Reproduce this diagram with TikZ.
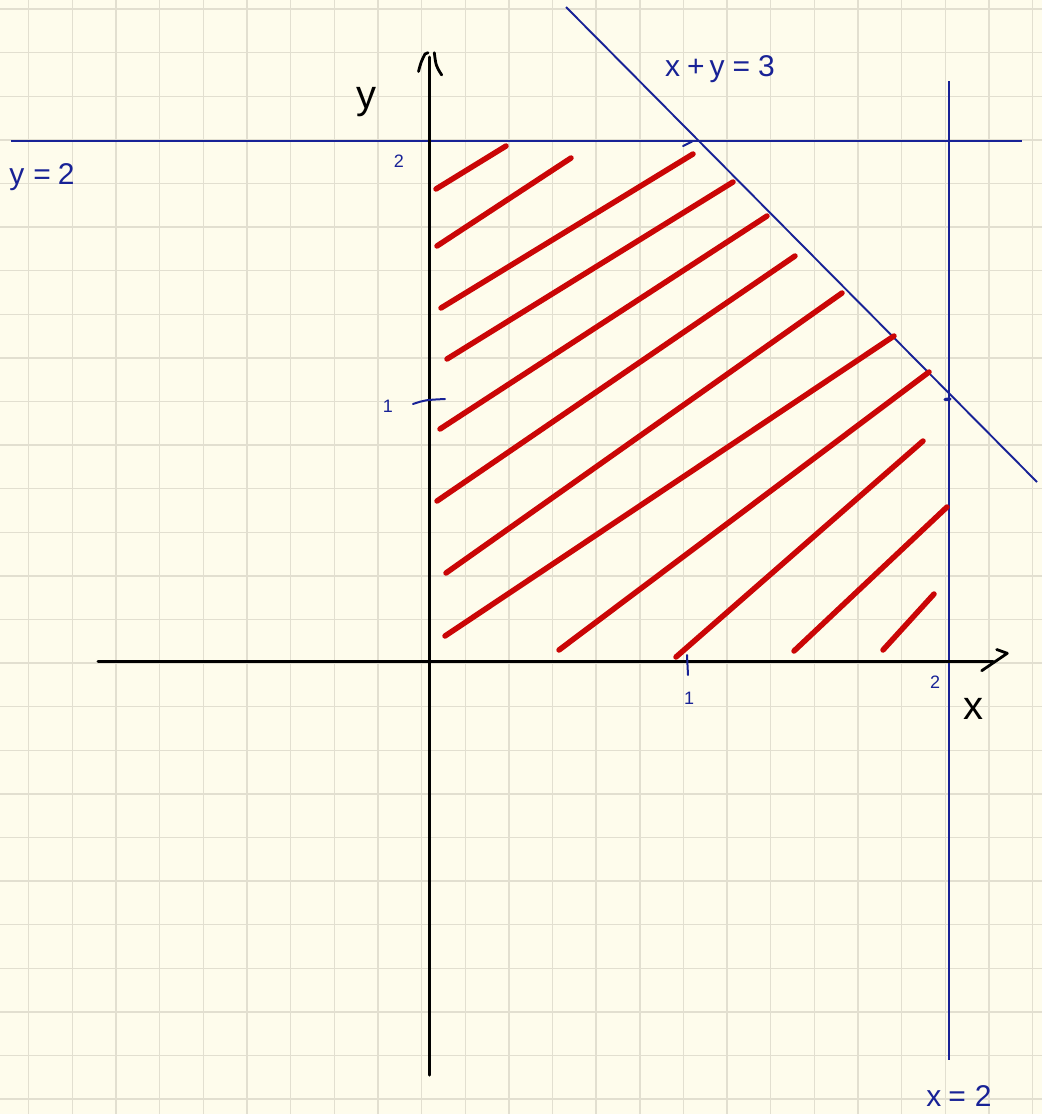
\documentclass[tikz,border=0pt]{standalone}
\usepackage{fontspec}
\setmainfont{Liberation Sans}
\definecolor{paper}{RGB}{254,252,236}
\definecolor{gridc}{RGB}{226,223,208}
\definecolor{ink}{RGB}{24,34,150}
\definecolor{hatch}{RGB}{202,6,6}
\begin{document}
\begin{tikzpicture}[x=1pt,y=-1pt,
  gridline/.style={draw=gridc,line width=1.4pt},
  axisline/.style={draw=black,line width=3pt,line cap=round},
  bluelinestyle/.style={draw=ink,line width=2.2pt},
  bluetick/.style={draw=ink,line width=2pt,line cap=round},
  hatchline/.style={draw=hatch,line width=5.5pt,line cap=round},
  bluelabel/.style={text=ink,inner sep=0pt,anchor=base,font=\fontsize{30}{30}\selectfont},
  smalllabel/.style={text=ink,inner sep=0pt,anchor=base,font=\fontsize{18}{18}\selectfont},
  axislabel/.style={text=black,inner sep=0pt,anchor=base,font=\fontsize{40}{40}\selectfont}]
% paper and bounding box
\fill[paper] (0,0) rectangle (1042,1114);
\useasboundingbox (0,0) rectangle (1042,1114);
% grid
\foreach \k in {0,...,23} {\draw[gridline] ({28.7+43.65*\k},0) -- ({28.7+43.65*\k},1114);}
\foreach \k in {0,...,25} {\draw[gridline] (0,{9+43.6*\k}) -- (1042,{9+43.6*\k});}
% constraint lines
\coordinate (h1) at (11,140.7);
\coordinate (h2) at (1022,140.7);
\coordinate (v1) at (949,81);
\coordinate (v2) at (949,1060);
\coordinate (d1) at (566,7);
\coordinate (d2) at (1037,482);
\draw[bluelinestyle] (h1) -- (h2);
\draw[bluelinestyle] (v1) -- (v2);
\draw[draw=ink,line width=1.9pt] (d1) -- (d2);
% small marks at intersections
\coordinate (m1a) at (683,146);
\coordinate (m1b) at (692,141.5);
\draw[bluetick] (m1a) -- (m1b);
\coordinate (m2a) at (945,399.5);
\coordinate (m2b) at (950,399);
\draw[draw=ink,line width=3.2pt,line cap=round] (m2a) -- (m2b);
% hatching
\foreach \ax/\ay/\bx/\by in {
  436/189/506/146,
  437/246/571/158,
  441/308/693/154,
  447/359/733/182,
  440/429/767/216,
  437/501/795/256,
  446/573/842/293,
  445/636/894/336,
  559/650/929/372,
  676/657/923/441,
  794/651/947/507,
  883/650/934/594} {
  \draw[hatchline] (\ax,\ay) -- (\bx,\by);
}
% axes
\coordinate (xs) at (98,661);
\coordinate (xe) at (993,661);
\coordinate (ys) at (429.5,1075);
\coordinate (ye) at (429.5,57);
\draw[axisline] (xs) -- (xe);
\draw[axisline] (ys) -- (ye);
% arrow strokes
\coordinate (xa1) at (996.7,649.5);
\coordinate (xa2) at (1007.3,653.3);
\coordinate (xa3) at (981.7,670.7);
\draw[axisline,line join=round,line width=2.8pt] (xa1) -- (xa2) -- (xa3);
\coordinate (ya1) at (418.5,71.5);
\coordinate (ya2) at (425,54);
\coordinate (ya3) at (428,52.7);
\coordinate (ya4) at (434.3,52.7);
\coordinate (ya5) at (441.7,75);
\draw[axisline,line join=round,line width=2.8pt] (ya1) .. controls (421,62) .. (ya2) -- (ya3);
\draw[axisline,line width=2.8pt] (ya4) .. controls (436,66) .. (ya5);
% ticks
\coordinate (t1a) at (413,404);
\coordinate (t1b) at (445,399);
\draw[bluetick] (t1a) .. controls (425,400) .. (t1b);
\coordinate (t2a) at (687,655);
\coordinate (t2b) at (688,675);
\draw[bluetick] (t2a) -- (t2b);
% labels
\node[bluelabel] (lxy3) at (720,76) {x\hspace{7pt}+\hspace{5pt}y\hspace{8pt}=\hspace{8pt}3};
\node[bluelabel] (ly2) at (42,184) {y\hspace{9pt}=\hspace{7pt}2};
\node[bluelabel] (lx2) at (959,1106) {x\hspace{7pt}=\hspace{9pt}2};
\node[smalllabel] (ytick2) at (399,167) {2};
\node[smalllabel] (ytick1) at (388,412) {1};
\node[smalllabel] (xtick1) at (689,704) {1};
\node[smalllabel] (xtick2) at (935,688) {2};
\node[axislabel] (ylab) at (366,108) {y};
\node[axislabel] (xlab) at (973.5,719) {x};
\end{tikzpicture}
\end{document}
